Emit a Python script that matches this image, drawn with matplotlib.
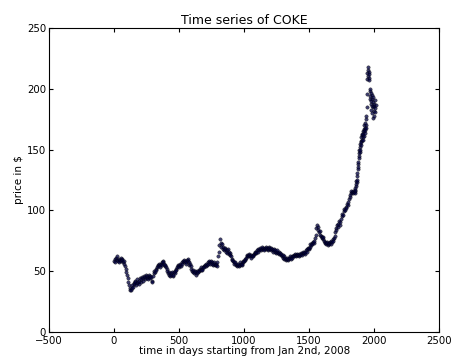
import numpy as np
import matplotlib
matplotlib.use("Agg")
from matplotlib import pyplot as plt

# COKE closing prices.
# first part: one value every 5 trading days, day 0 .. day 1845
price_early = [
    58, 60, 57, 61, 59, 62, 58, 60, 57, 59, 61, 58, 60, 59, 57, 58, 56, 54, 52, 49,
    47, 44, 41, 38, 36, 34, 34, 36, 38, 37, 40, 39, 42, 41, 38, 40, 43, 41, 39, 42,
    44, 41, 43, 45, 42, 44, 46, 43, 45, 47, 44, 46, 43, 45, 47, 46, 44, 45, 42, 41,
    46, 48, 50, 49, 52, 51, 53, 55, 54, 56, 55, 53, 56, 57, 55, 58, 57, 56, 54, 55,
    53, 52, 50, 48, 49, 47, 46, 48, 47, 49, 46, 47, 49, 48, 50, 52, 51, 53, 55, 54,
    53, 55, 56, 54, 57, 56, 58, 57, 59, 58, 56, 57, 59, 60, 58, 57, 55, 56, 54, 52,
    50, 49, 51, 48, 50, 49, 47, 48, 50, 49, 51, 50, 52, 51, 53, 52, 51, 53, 54, 53,
    55, 54, 56, 55, 57, 56, 58, 57, 56, 58, 57, 56, 55, 57, 56, 55, 56, 55, 54, 57,
    62, 66, 71, 76, 73, 70, 72, 68, 70, 67, 69, 68, 66, 67, 65, 68, 66, 64, 65, 63,
    62, 60, 59, 58, 57, 56, 57, 55, 56, 54, 55, 56, 54, 55, 57, 56, 55, 56, 57, 58,
    58, 59, 60, 61, 62, 63, 62, 64, 63, 62, 63, 61, 62, 63, 62, 64, 65, 66, 65, 66,
    67, 66, 68, 67, 68, 69, 67, 68, 70, 69, 68, 67, 69, 70, 68, 69, 67, 68, 70, 69,
    68, 67, 69, 68, 66, 67, 68, 66, 67, 65, 66, 67, 65, 66, 64, 65, 63, 64, 62, 63,
    61, 62, 60, 61, 59, 60, 61, 59, 60, 61, 62, 61, 60, 62, 61, 62, 63, 62, 64, 63,
    62, 63, 64, 63, 62, 64, 63, 65, 64, 63, 65, 66, 65, 64, 66, 67, 66, 68, 69, 68,
    69, 70, 72, 71, 73, 72, 74, 73, 75, 77, 80, 85, 88, 86, 84, 82, 83, 80, 79, 78,
    77, 76, 78, 75, 74, 73, 72, 74, 73, 71, 72, 73, 74, 72, 75, 74, 76, 75, 77, 79,
    82, 85, 84, 88, 86, 89, 91, 88, 90, 93, 95, 97, 96, 99, 101, 100, 103, 102, 105, 104,
    107, 109, 111, 113, 114, 116, 115, 114, 116, 115,
]
# last part is much more jumpy: one value every 2 trading days, day 1850 .. 2010
price_late = [
    116, 114, 117, 118, 120, 122, 124, 123, 125, 128,
    131, 134, 138, 136, 140, 145, 143, 147, 150, 148,
    152, 155, 150, 157, 154, 160, 156, 162, 158, 163,
    160, 165, 158, 163, 167, 161, 165, 170, 164, 168,
    172, 166, 170, 175, 168, 178, 185, 196, 208, 213,
    216, 211, 218, 209, 214, 207, 212, 198, 192, 200,
    194, 188, 197, 190, 183, 195, 186, 192, 180, 189,
    176, 185, 193, 182, 188, 178, 186, 191, 181, 184,
    187,
]

days = np.concatenate([np.arange(len(price_early)) * 5,
                       1850 + np.arange(len(price_late)) * 2])
price = np.array(price_early + price_late)

fig = plt.figure(figsize=(4.51, 3.6), dpi=100)
ax = fig.add_axes([0.1086, 0.0789, 0.8654, 0.8425])

ax.scatter(days, price, s=6, c="#000040", edgecolors="k", linewidths=0.3, alpha=0.75)

ax.set_xlim(-500, 2500)
ax.set_ylim(0, 250)
ax.set_xticks(np.arange(-500, 2501, 500))
ax.set_yticks(np.arange(0, 251, 50))
ax.tick_params(direction="in", top=True, right=True, labelsize=7.3, length=3)
ax.tick_params(axis="x", pad=3.5)
ax.tick_params(axis="y", pad=2)

ax.set_title("Time series of COKE", fontsize=9, pad=3)
ax.set_xlabel("time in days starting from Jan 2nd, 2008", fontsize=7.5, labelpad=0)
ax.set_ylabel("price in $", fontsize=7.5, labelpad=2)

fig.savefig("out.png", dpi=100, facecolor="white")
